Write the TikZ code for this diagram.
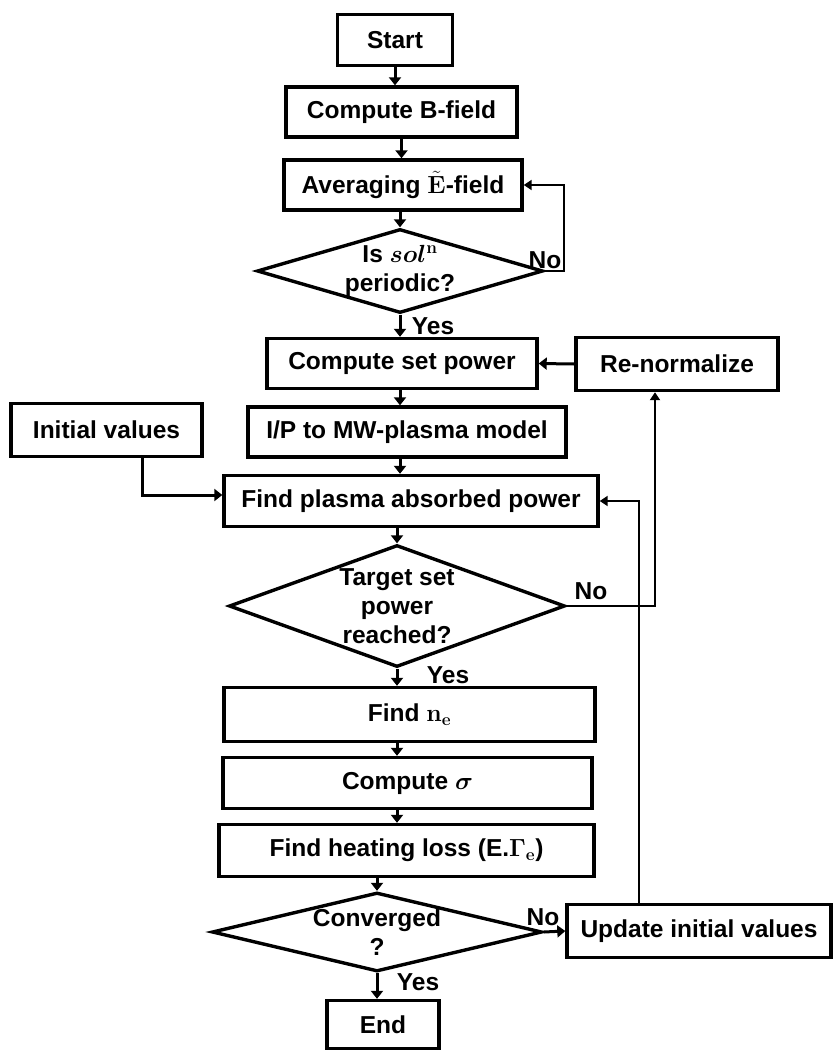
\documentclass[tikz,border=0pt]{standalone}
\usepackage[no-math]{fontspec}
\setmainfont{Liberation Sans}
\usepackage{bm}
\usetikzlibrary{arrows.meta,shapes.geometric}
\begin{document}
\begin{tikzpicture}[x=1bp,y=-1bp,
  txt/.style={font=\fontsize{24.6}{29}\selectfont\bfseries},
  box/.style={draw, line width=3.4bp, inner sep=0pt, txt, align=center},
  dia/.style={draw, shape=diamond, line width=3.4bp, inner sep=0pt},
  dtext/.style={txt, align=center, inner sep=0pt},
  arr/.style={line width=3bp, -{Triangle[length=8bp,width=12bp]}},
  thinarr/.style={line width=2.3bp, -{Triangle[length=8bp,width=10bp]}},
  lab/.style={txt, inner sep=0pt}
]
\useasboundingbox (0,0) rectangle (835,1051);

% boxes
\node[box, minimum width=115bp, minimum height=51bp] (start) at (395,40) {Start};
\node[box, minimum width=231bp, minimum height=50bp] (bfield) at (401.5,112) {Compute B-field};
\node[box, minimum width=238bp, minimum height=50bp] (avg) at (403,185) {Averaging $\tilde{\mathbf{E}}$-field};
\node[dia, minimum width=286bp, minimum height=84bp,
      label={[dtext]center:{Is $\bm{sol}^{\mathbf{n}}$\\periodic?}}] (d1) at (400,271) {};
\node[box, minimum width=270bp, minimum height=50bp] (csp) at (402,363.5) {Compute set power};
\node[box, minimum width=202bp, minimum height=53bp] (renorm) at (677,364) {Re-normalize};
\node[box, minimum width=318bp, minimum height=50bp] (ip) at (407,432) {I/P to MW-plasma model};
\node[box, minimum width=191bp, minimum height=53bp] (init) at (106.5,430) {Initial values};
\node[box, minimum width=374bp, minimum height=51bp] (fpap) at (411,501) {Find plasma absorbed power};
\node[dia, minimum width=336bp, minimum height=122bp,
      label={[dtext]center:{Target set\\power\\reached?}}] (d2) at (397,606) {};
\node[box, minimum width=371bp, minimum height=54bp] (fne) at (409.5,714.5) {Find $\mathbf{n_e}$};
\node[box, minimum width=369bp, minimum height=51bp] (csig) at (407.5,783) {Compute $\bm{\sigma}$};
\node[box, minimum width=375bp, minimum height=52bp] (fhl) at (406.5,850.5) {Find heating loss (E.$\mathbf{\Gamma_e}$)};
\node[dia, minimum width=330bp, minimum height=79bp,
      label={[dtext]center:{Converged\\?}}] (d3) at (377,932) {};
\node[box, minimum width=112bp, minimum height=48bp] (endn) at (383,1024.5) {End};
\node[box, minimum width=264bp, minimum height=53bp] (upd) at (699,931) {Update initial values};

% labels
\node[lab] (no1) at (545,260) {No};
\node[lab] (yes1) at (433,326) {Yes};
\node[lab] (no2) at (591,591) {No};
\node[lab] (yes2) at (448,675) {Yes};
\node[lab] (no3) at (543,917) {No};
\node[lab] (yes3) at (418,982) {Yes};

% connectors
\draw[arr] (start.south) -- (start.south |- bfield.north);
\draw[arr] (bfield.south) -- (bfield.south |- avg.north);
\draw[arr] (avg.south -| d1.north) -- (d1.north);
\draw[arr] (d1.south) -- (d1.south |- csp.north);
\draw[thinarr] (d1.east) -- ++(19,0) |- (avg.east);
\draw[arr] (renorm.west) -- (csp.east);
\draw[arr] (csp.south -| d1.south) -- (d1.south |- ip.north);
\draw[arr] (ip.south -| d1.south) -- (d1.south |- fpap.north);
\draw[arr] ([xshift=35.5bp]init.south) |- ([yshift=6bp]fpap.west);
\draw[arr] (fpap.south -| d2.north) -- (d2.north);
\draw[thinarr] (d2.east) -| ([xshift=-22bp]renorm.south);
\draw[arr] (d2.south) -- (d2.south |- fne.north);
\draw[arr] (fne.south -| d2.south) -- (d2.south |- csig.north);
\draw[arr] (csig.south -| d2.south) -- (d2.south |- fhl.north);
\draw[arr] (fhl.south -| d3.north) -- (d3.north);
\draw[arr] (d3.east) -- (upd.west);
\draw[thinarr] ([xshift=-60bp]upd.north) |- (fpap.east);
\draw[arr] (d3.south) -- (d3.south |- endn.north);
\end{tikzpicture}
\end{document}
